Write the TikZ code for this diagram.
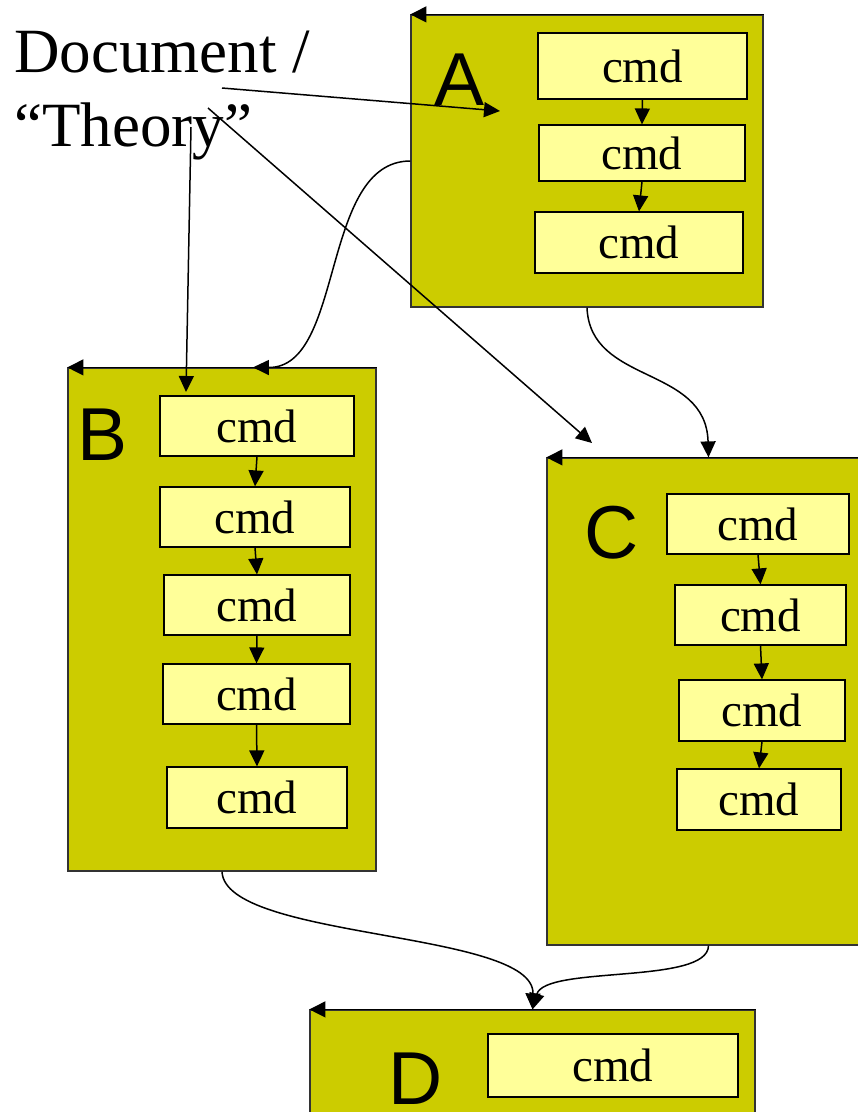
\documentclass[tikz,border=0pt]{standalone}
\usepackage{fontspec}
\setmainfont{Liberation Serif}
\newfontfamily\letterfont{Liberation Sans}
\usetikzlibrary{arrows.meta}
\usetikzlibrary{positioning,calc}
\definecolor{stageFill}{RGB}{204,204,0}
\definecolor{cmdFill}{RGB}{255,255,153}
\tikzset{stage/.style={rectangle,draw=black!80,fill=stageFill,line width=1.2pt,inner sep=0pt},
		cmd/.style={rectangle,draw=black,fill=cmdFill,line width=1.2pt,inner sep=0pt,
		            font=\fontsize{47}{50}\selectfont},
		letter/.style={font=\letterfont\fontsize{75}{80}\selectfont,inner sep=0pt},
		doc/.style={font=\fontsize{63}{74}\selectfont,align=left,inner sep=0pt},
		tip/.style={-{Triangle[length=16pt,width=16pt]},line width=1.3pt},
		flow/.style={-{Triangle[length=16pt,width=15pt]},line width=1.5pt},
		every node/.style={align=center}}

\begin{document}
\begin{tikzpicture}[x=1pt,y=-1pt]
				\useasboundingbox (0,0) rectangle (858,1112);
				% stages
				\node [stage, minimum width=352, minimum height=292] (A) at (587,161) {};
				\node [stage, minimum width=308, minimum height=503] (B) at (222,619.5) {};
				\node [stage, minimum width=323, minimum height=487] (C) at (708.5,701.5) {};
				\node [stage, minimum width=445, minimum height=130] (D) at (532.5,1075) {};
				\foreach \s in {A,B,C,D}
					\draw[tip] (\s.north east) -- (\s.north west);
				\node [letter] (la) at (460,80) {A};
				\node [letter] (lb) at (103,435) {B};
				\node [letter] (lc) at (612,533) {C};
				\node [letter] (ld) at (416,1079) {D};
				% commands
				\node [cmd, minimum width=209, minimum height=66] (a1) at (642.5,66) {cmd};
				\node [cmd, minimum width=206, minimum height=56] (a2) at (642,153) {cmd};
				\node [cmd, minimum width=208, minimum height=61] (a3) at (639,242.5) {cmd};
				\node [cmd, minimum width=194, minimum height=60] (b1) at (257,426) {cmd};
				\node [cmd, minimum width=190, minimum height=60] (b2) at (255,517) {cmd};
				\node [cmd, minimum width=186, minimum height=60] (b3) at (257,605) {cmd};
				\node [cmd, minimum width=187, minimum height=60] (b4) at (256.5,694) {cmd};
				\node [cmd, minimum width=180, minimum height=61] (b5) at (257,797.5) {cmd};
				\node [cmd, minimum width=182, minimum height=60] (c1) at (758,524) {cmd};
				\node [cmd, minimum width=171, minimum height=60] (c2) at (760.5,615) {cmd};
				\node [cmd, minimum width=166, minimum height=61] (c3) at (762,710.5) {cmd};
				\node [cmd, minimum width=164, minimum height=61] (c4) at (759,799.5) {cmd};
				\node [cmd, minimum width=250, minimum height=63] (d1) at (613,1065.5) {cmd};
				% document
				\node [doc, anchor=north west] (doc) at (14,31) {Document /\\``Theory''};
				\coordinate (docA) at (222,88);
				\coordinate (docB) at (191,127);
				\coordinate (docC) at (208,108);
				\coordinate (inA) at (500,111);
				\coordinate (inB) at (186,392);
				\coordinate (inC) at (592,443);
				%edges
				\draw[flow] (a1.south) -- (a2.north);
				\draw[flow] (a2.south) -- (a3.north);
				\draw[flow] (b1.south) -- (b2.north);
				\draw[flow] (b2.south) -- (b3.north);
				\draw[flow] (b3.south) -- (b4.north);
				\draw[flow] (b4.south) -- (b5.north);
				\draw[flow] (c1.south) -- (c2.north);
				\draw[flow] (c2.south) -- (c3.north);
				\draw[flow] (c3.south) -- (c4.north);
				\draw[flow] (docA) -- (inA);
				\draw[flow] (docB) -- (inB);
				\draw[flow] (docC) -- (inC);
				\draw[flow] (A.west) .. controls (320,161) and (345,368) .. ($(B.north west)!0.6!(B.north east)$);
				\draw[flow] (A.south) .. controls (590,385) and (706,365) .. (C.north);
				\draw[flow] (B.south) .. controls (225,940) and (535,930) .. (D.north);
				\draw[flow] (C.south) .. controls (708,985) and (545,965) .. (D.north);
			\end{tikzpicture}
\end{document}
